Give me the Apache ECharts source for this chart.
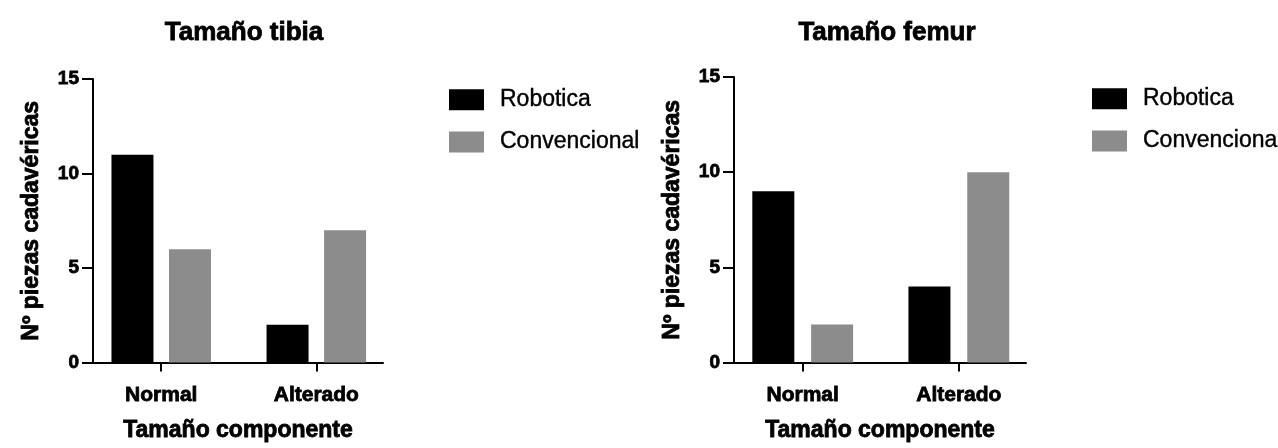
<!DOCTYPE html>
<html>
<head>
<meta charset="utf-8">
<script src="https://cdn.jsdelivr.net/npm/echarts@6/dist/echarts.min.js"></script>
<style>
html,body{margin:0;padding:0;background:#fff;}
#c{width:1278px;height:448px;}
</style>
</head>
<body>
<div id="c"></div>
<script>
const categories = ['Normal', 'Alterado'];
const seriesNames = ['Robotica', 'Convencional'];
const chartTitles = ['Tamaño tibia', 'Tamaño femur'];
const yTicks = [0, 5, 10, 15];
const tibiaRobotica = [11, 2];
const tibiaConvencional = [6, 7];
const femurRobotica = [9, 4];
const femurConvencional = [2, 10];
const xName = 'Tamaño componente';
const yName = 'Nº piezas cadavéricas';

const FONT = '"Liberation Sans", Arial, Helvetica, sans-serif';
const colors = ['#000000', '#8c8c8c'];

const grids = [
  {left: 93, top: 79, width: 290, height: 290},
  {left: 734, top: 77, width: 292, height: 291}
];
const titleCenters = [239, 882];
const legendPos = [{left: 449, top: 88}, {left: 1092, top: 87}];

function pts(vals){ return vals.map((v,i)=>[i, v]); }
const heavy = {textBorderColor: '#000', textBorderWidth: 0.8};

const option = {
  backgroundColor: '#ffffff',
  animation: false,
  textStyle: {fontFamily: FONT},
  title: chartTitles.map((t,i)=>({
    text: t, left: titleCenters[i], top: 15, textAlign: 'center',
    textStyle: Object.assign({fontFamily: FONT, fontSize: 26, fontWeight: 'bold', color: '#000'}, heavy)
  })),
  legend: legendPos.map((p)=>({
    data: seriesNames, orient: 'vertical', left: p.left, top: p.top, padding: 0,
    itemWidth: 35, itemHeight: 21, itemGap: 19, icon: 'rect',
    textStyle: {fontFamily: FONT, fontSize: 23, color: '#000', padding: [0,0,0,11], textBorderColor: '#000', textBorderWidth: 0.4}
  })),
  grid: grids.map(g=>Object.assign({containLabel: false}, g)),
  xAxis: grids.map((g,i)=>({
    type: 'value', gridIndex: i, min: -0.44, max: 1.43,
    splitLine: {show: false},
    axisLine: {show: true, onZero: false, lineStyle: {color: '#000', width: 2}},
    axisTick: {show: true, customValues: [0,1], length: 9, lineStyle: {color: '#000', width: 2}},
    axisLabel: Object.assign({customValues: [0,1], margin: 22, fontFamily: FONT, fontSize: 21, fontWeight: 'bold', color: '#000',
      formatter: v => categories[Math.round(v)]}, heavy),
    name: xName, nameLocation: 'middle', nameGap: 57,
    nameTextStyle: Object.assign({fontFamily: FONT, fontSize: 23, fontWeight: 'bold', color: '#000'}, heavy)
  })),
  yAxis: grids.map((g,i)=>({
    type: 'value', gridIndex: i, min: yTicks[0], max: yTicks[yTicks.length-1], interval: 5,
    splitLine: {show: false},
    axisLine: {show: true, onZero: false, lineStyle: {color: '#000', width: 2}},
    axisTick: {show: true, length: 11, lineStyle: {color: '#000', width: 2}},
    axisLabel: Object.assign({margin: 14, fontFamily: FONT, fontSize: 19, fontWeight: 'bold', color: '#000'}, heavy),
    name: yName, nameLocation: 'middle', nameGap: 50, nameRotate: 90,
    nameTextStyle: Object.assign({fontFamily: FONT, fontSize: 23, fontWeight: 'bold', color: '#000'}, heavy)
  })),
  series: [
    {name: seriesNames[0], type: 'bar', xAxisIndex: 0, yAxisIndex: 0, data: pts(tibiaRobotica), barWidth: 42, barGap: '37%', itemStyle: {color: colors[0]}},
    {name: seriesNames[1], type: 'bar', xAxisIndex: 0, yAxisIndex: 0, data: pts(tibiaConvencional), barWidth: 42, barGap: '37%', itemStyle: {color: colors[1]}},
    {name: seriesNames[0], type: 'bar', xAxisIndex: 1, yAxisIndex: 1, data: pts(femurRobotica), barWidth: 42, barGap: '40%', itemStyle: {color: colors[0]}},
    {name: seriesNames[1], type: 'bar', xAxisIndex: 1, yAxisIndex: 1, data: pts(femurConvencional), barWidth: 42, barGap: '40%', itemStyle: {color: colors[1]}}
  ]
};

const chart = echarts.init(document.getElementById('c'), null, {renderer: 'canvas'});
chart.setOption(option);
</script>
</body>
</html>
